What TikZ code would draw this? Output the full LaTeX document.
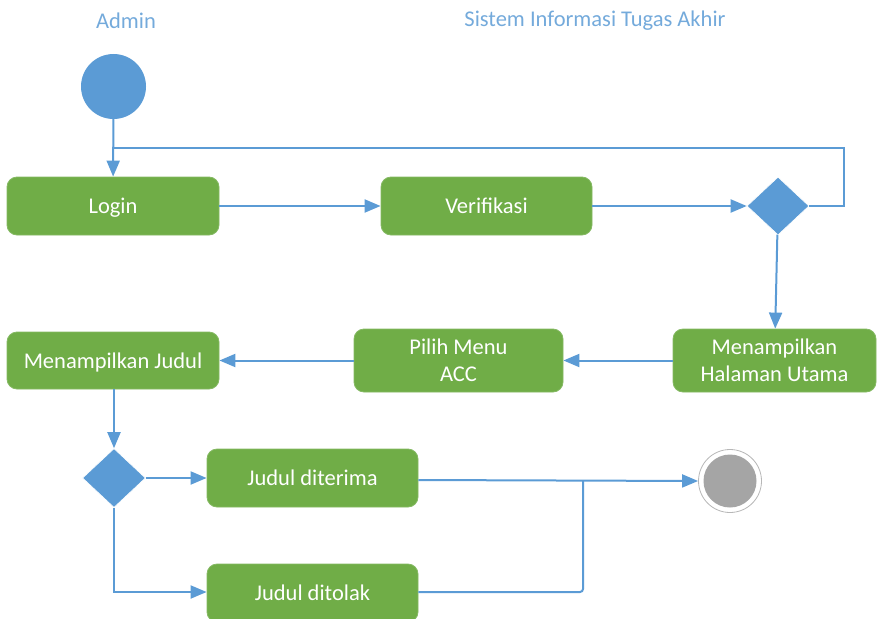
\documentclass[tikz,border=0pt]{standalone}
\usepackage{fontspec}
\setmainfont{Carlito}
\usetikzlibrary{shapes.geometric,arrows.meta}
\definecolor{flowblue}{HTML}{5B9BD5}
\definecolor{actgreen}{HTML}{70AD47}
\definecolor{endgrey}{HTML}{A5A5A5}
\tikzset{
  action/.style={rectangle, rounded corners=10pt, fill=actgreen, draw=actgreen!85!white, line width=0.8pt,
    text=white, inner sep=0pt, align=center, text depth=0pt, font=\fontsize{22.5}{27}\selectfont},
  decision/.style={diamond, fill=flowblue, draw=white, line width=0.6pt, inner sep=0pt},
  flow/.style={draw=flowblue, line width=2pt, -{Triangle[length=16pt,width=13pt]}},
  flowplain/.style={draw=flowblue, line width=2pt},
  lane/.style={text=flowblue!85!white, font=\fontsize{22.5}{26}\selectfont}
}
\begin{document}
\begin{tikzpicture}[x=1pt, y=-1pt]
\useasboundingbox (0,0) rectangle (877,618);

% swimlane titles
\node[lane] (admin) at (126,21) {Admin};
\node[lane] (sistem) at (595,21) {Sistem Informasi Tugas Akhir};

% initial and final states
\node[circle, fill=flowblue, inner sep=0pt, minimum size=65pt] (start) at (113.5,86.5) {};
\node[circle, draw=endgrey!80!white, line width=0.8pt, fill=white, inner sep=0pt, minimum size=63pt] (finish) at (730,481) {};
\node[circle, fill=endgrey, inner sep=0pt, minimum size=53pt] (finishdot) at (730,481) {};

% actions
\node[action, minimum width=212pt, minimum height=58pt] (login) at (113,206) {Login};
\node[action, minimum width=211pt, minimum height=58pt] (verif) at (486.5,206) {Verifikasi};
\node[action, minimum width=203pt, minimum height=63pt] (home) at (774.5,360.5) {Menampilkan\\Halaman Utama};
\node[action, minimum width=209pt, minimum height=63pt] (pilih) at (458.5,360.5) {Pilih Menu\\ACC};
\node[action, minimum width=212pt, minimum height=57pt] (judul) at (113,360.5) {Menampilkan Judul};
\node[action, minimum width=211pt, minimum height=58pt] (terima) at (312.5,478) {Judul diterima};
\node[action, minimum width=211pt, minimum height=58pt] (tolak) at (312.5,593) {Judul ditolak};

% decisions
\node[decision, minimum width=62pt, minimum height=58pt] (dec1) at (778,206) {};
\node[decision, minimum width=63pt, minimum height=59pt] (dec2) at (114,478) {};

% helper points
\coordinate (loopend) at (113,148);
\coordinate (merge) at (583,480);

% connectors
\draw[flow] (start) -- (login);
\draw[flowplain] (dec1.east) -- (844,206) -- (844,148) -- (loopend);
\draw[flow] (login) -- (verif);
\draw[flow] (verif) -- (dec1);
\draw[flow] (dec1) -- (home);
\draw[flow] (home) -- (pilih);
\draw[flow] (pilih) -- (judul);
\draw[flow] (judul.south -| dec2.north) -- (dec2.north);
\draw[flow] (dec2.east) -- (terima.west |- dec2.east);
\draw[flow] (dec2.south) |- (tolak.west |- 0,592);
\draw[flow] (terima.east |- 0,480) -- (finish.west);
\draw[flowplain, rounded corners=3pt] (tolak.east |- 0,592) -| (merge);
\end{tikzpicture}
\end{document}
